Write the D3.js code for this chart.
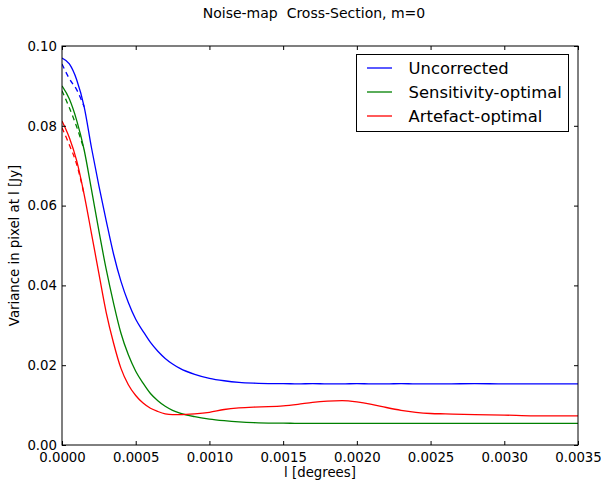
<!DOCTYPE html>
<html>
<head>
<meta charset="utf-8">
<script src="https://cdn.jsdelivr.net/npm/d3@7/dist/d3.min.js"></script>
<style>
  html, body { margin: 0; padding: 0; background: #fff; }
  svg { display: block; font-family: "DejaVu Sans", sans-serif; }
</style>
</head>
<body>
<svg id="chart" width="601" height="484"></svg>
<script>
// ---- data ----
const lGrid = [0, 0.00005, 0.0001, 0.00015, 0.0002, 0.00025, 0.0003, 0.00035, 0.0004, 0.00045,
  0.0005, 0.00055, 0.0006, 0.00065, 0.0007, 0.00075, 0.0008, 0.0009, 0.001, 0.0011,
  0.0012, 0.0013, 0.0014, 0.0015, 0.0016, 0.0017, 0.0018, 0.0019, 0.002, 0.0021,
  0.0022, 0.0023, 0.0024, 0.0025, 0.0026, 0.0028, 0.003, 0.0032, 0.0035];

const uncorrected = [0.0970, 0.0955, 0.0915, 0.0848, 0.0745, 0.0650, 0.0562, 0.0478, 0.0410, 0.0357,
  0.0315, 0.0285, 0.0257, 0.0235, 0.0217, 0.0203, 0.0192, 0.0177, 0.0167, 0.0161,
  0.0157, 0.0155, 0.0154, 0.0154, 0.0153, 0.0154, 0.0153, 0.0153, 0.0154, 0.0153,
  0.0153, 0.0154, 0.0153, 0.0153, 0.0153, 0.0154, 0.0153, 0.0153, 0.0153];

const sensitivity = [0.0900, 0.0867, 0.0813, 0.0740, 0.0640, 0.0537, 0.0440, 0.0355, 0.0280, 0.0226,
  0.0185, 0.0155, 0.0129, 0.0111, 0.0097, 0.0087, 0.0080, 0.0071, 0.0065, 0.0061,
  0.0058, 0.0056, 0.0055, 0.0055, 0.0054, 0.0054, 0.0054, 0.0054, 0.0054, 0.0054,
  0.0054, 0.0054, 0.0054, 0.0054, 0.0054, 0.0054, 0.0054, 0.0054, 0.0054];

const artefact = [0.0812, 0.0770, 0.0712, 0.0628, 0.0530, 0.0430, 0.0332, 0.0255, 0.0192, 0.0151,
  0.0124, 0.0105, 0.0092, 0.0084, 0.0078, 0.0076, 0.0076, 0.0078, 0.0082, 0.0089,
  0.0093, 0.0095, 0.0096, 0.0098, 0.0102, 0.0107, 0.0110, 0.0111, 0.0108, 0.0102,
  0.0094, 0.0087, 0.0082, 0.0079, 0.0078, 0.0076, 0.0075, 0.0073, 0.0073];

// dashed companion curves (only differ near l = 0)
const lDash = [0, 0.00005, 0.0001, 0.00015];
const uncorrectedDash = [0.0955, 0.0918, 0.0890, 0.0848];
const sensitivityDash = [0.0888, 0.0845, 0.0797, 0.0740];
const artefactDash = [0.0795, 0.0752, 0.0703, 0.0628];

const seriesNames = ["Uncorrected", "Sensitivity-optimal", "Artefact-optimal"];
const seriesColors = ["#0000ff", "#008000", "#ff0000"];
const xTicks = [0, 0.0005, 0.001, 0.0015, 0.002, 0.0025, 0.003, 0.0035];
const yTicks = [0, 0.02, 0.04, 0.06, 0.08, 0.10];
const titleText = "Noise-map\u00a0\u00a0Cross-Section, m=0";
const xLabel = "l [degrees]";
const yLabel = "Variance in pixel at l [Jy]";

// ---- layout ----
const svg = d3.select("#chart");
const m = { left: 62, right: 578, top: 46, bottom: 445 };
const x = d3.scaleLinear().domain([0, 0.0035]).range([m.left, m.right]);
const y = d3.scaleLinear().domain([0, 0.10]).range([m.bottom, m.top]);

const fs = "13.3px";

svg.append("defs").append("clipPath").attr("id", "clip")
  .append("rect").attr("x", m.left).attr("y", m.top)
  .attr("width", m.right - m.left).attr("height", m.bottom - m.top);

const line = d3.line().x(d => x(d[0])).y(d => y(d[1])).curve(d3.curveMonotoneX);

const solid = [uncorrected, sensitivity, artefact];
const dashed = [uncorrectedDash, sensitivityDash, artefactDash];
const plot = svg.append("g").attr("clip-path", "url(#clip)");

dashed.forEach((vals, i) => {
  plot.append("path")
    .datum(lDash.map((l, j) => [l, vals[j]]))
    .attr("d", line).attr("fill", "none")
    .attr("stroke", seriesColors[i]).attr("stroke-width", 1.3)
    .attr("stroke-dasharray", "5,4");
});
solid.forEach((vals, i) => {
  plot.append("path")
    .datum(lGrid.map((l, j) => [l, vals[j]]))
    .attr("d", line).attr("fill", "none")
    .attr("stroke", seriesColors[i]).attr("stroke-width", 1.3);
});

// axes
const fmtX = d3.format(".4f");
const fmtY = d3.format(".2f");
const gx = svg.append("g").attr("transform", `translate(0,${m.bottom})`)
  .call(d3.axisBottom(x).tickValues(xTicks).tickFormat(fmtX).tickSize(-4).tickPadding(8));
const gxt = svg.append("g").attr("transform", `translate(0,${m.top})`)
  .call(d3.axisTop(x).tickValues(xTicks).tickFormat("").tickSize(-4));
const gy = svg.append("g").attr("transform", `translate(${m.left},0)`)
  .call(d3.axisLeft(y).tickValues(yTicks).tickFormat(fmtY).tickSize(-4).tickPadding(5));
const gyr = svg.append("g").attr("transform", `translate(${m.right},0)`)
  .call(d3.axisRight(y).tickValues(yTicks).tickFormat("").tickSize(-4));
[gx, gxt, gy, gyr].forEach(g => {
  g.select(".domain").remove();
  g.selectAll("text").attr("font-family", "DejaVu Sans").attr("font-size", fs).attr("fill", "#000");
  g.selectAll("line").attr("stroke", "#000");
});

svg.append("rect").attr("x", m.left).attr("y", m.top)
  .attr("width", m.right - m.left).attr("height", m.bottom - m.top)
  .attr("fill", "none").attr("stroke", "#000").attr("stroke-width", 1);

// labels
svg.append("text").attr("x", 314).attr("y", 18).attr("text-anchor", "middle")
  .attr("font-size", "14px").text(titleText);
svg.append("text").attr("x", (m.left + m.right) / 2).attr("y", 477).attr("text-anchor", "middle")
  .attr("font-size", fs).text(xLabel);
svg.append("text").attr("transform", `translate(19,${(m.top + m.bottom) / 2}) rotate(-90)`)
  .attr("text-anchor", "middle").attr("font-size", fs).text(yLabel);

// legend
const lg = svg.append("g");
lg.append("rect").attr("x", 356.5).attr("y", 54.5).attr("width", 212).attr("height", 77)
  .attr("fill", "#fff").attr("stroke", "#000").attr("stroke-width", 1);
seriesNames.forEach((name, i) => {
  const yy = 68 + i * 24;
  lg.append("line").attr("x1", 367).attr("x2", 392).attr("y1", yy).attr("y2", yy)
    .attr("stroke", seriesColors[i]).attr("stroke-width", 1.3);
  lg.append("text").attr("x", 408.5).attr("y", yy + 5.5).attr("font-size", "16.4px").text(name);
});
</script>
</body>
</html>
